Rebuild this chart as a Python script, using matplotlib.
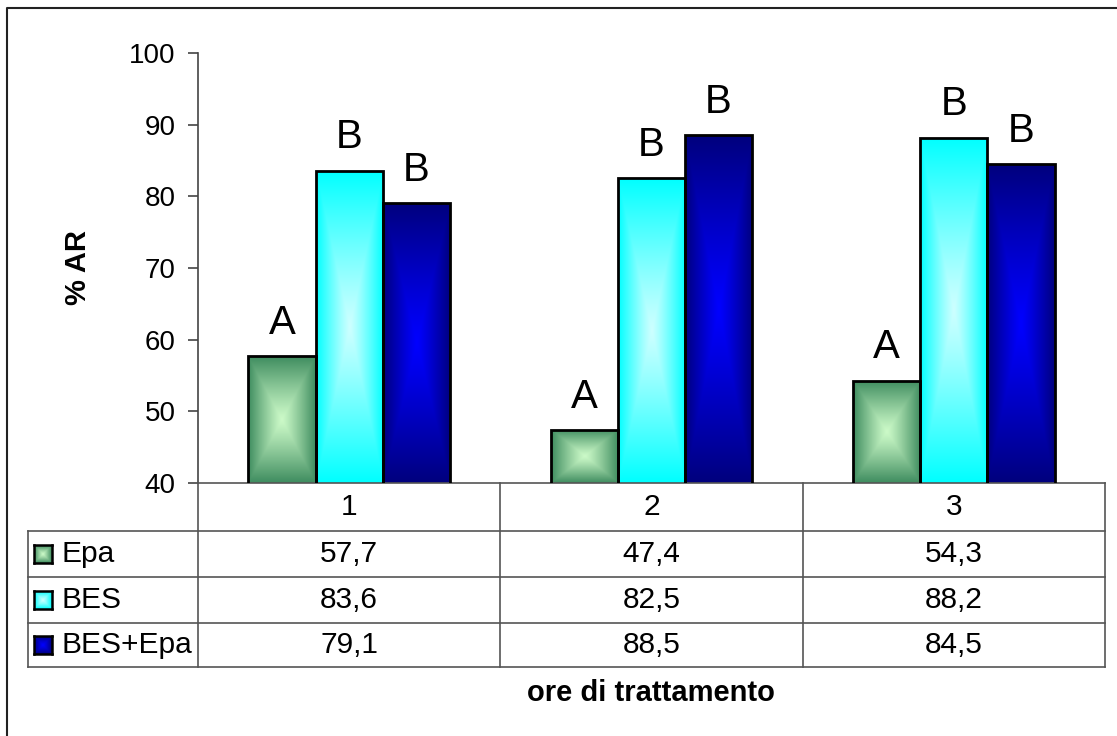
import numpy as np
import matplotlib
matplotlib.use("Agg")
import matplotlib.pyplot as plt
from matplotlib.transforms import blended_transform_factory
from matplotlib.lines import Line2D

plt.rcParams["font.family"] = ["Liberation Sans", "DejaVu Sans"]

# ---- data ----
hours = ["1", "2", "3"]
series_names = ["Epa", "BES", "BES+Epa"]
epa = [57.7, 47.4, 54.3]
bes = [83.6, 82.5, 88.2]
bes_epa = [79.1, 88.5, 84.5]
letters_epa = ["A", "A", "A"]
letters_bes = ["B", "B", "B"]
letters_bes_epa = ["B", "B", "B"]
y_ticks = [40, 50, 60, 70, 80, 90, 100]

# gradient colours (centre, edge) per series
grad_colors = [
    ((204, 250, 200), (62, 140, 95)),   # Epa
    ((205, 255, 255), (0, 255, 255)),   # BES
    ((0, 0, 255), (0, 0, 125)),         # BES+Epa
]

W, H = 1117, 736


def fx(px):
    return px / W


def fy(py):
    return 1 - py / H


def gradient(center, edge, nx=120, ny=240, power=1.15):
    u = np.linspace(-1, 1, nx)
    v = np.linspace(-1, 1, ny)
    U, V = np.meshgrid(u, v)
    t = (np.maximum(np.abs(U), np.abs(V)) ** power)[..., None]
    c = np.array(center) / 255.0
    e = np.array(edge) / 255.0
    return c * (1 - t) + e * t


fig = plt.figure(figsize=(W / 100, H / 100), dpi=100)
ax = fig.add_axes([fx(198), fy(483), (1105 - 198) / W, (483 - 53) / H])

x = np.arange(len(hours))
width = 0.222
offsets = [-width, 0.0, width]
all_vals = [epa, bes, bes_epa]
all_letters = [letters_epa, letters_bes, letters_bes_epa]
ymin, ymax = 40, 100

for vals, letters, off, (cc, ec) in zip(all_vals, all_letters, offsets, grad_colors):
    bars = ax.bar(x + off, vals, width, facecolor="none", edgecolor="black",
                  linewidth=2.0, zorder=3)
    img = gradient(cc, ec)
    for b, v, letter in zip(bars, vals, letters):
        x0 = b.get_x()
        x1 = x0 + b.get_width()
        im = ax.imshow(img, extent=(x0, x1, ymin, v), origin="lower",
                       aspect="auto", zorder=2, interpolation="bilinear")
        im.set_clip_path(b)
        ax.annotate(letter, (b.get_x() + b.get_width() / 2, v),
                    xytext=(0, 16), textcoords="offset points",
                    ha="center", va="baseline", fontsize=29)

ax.set_xlim(-0.5, len(hours) - 0.5)
ax.set_ylim(ymin, ymax)
ax.set_yticks(y_ticks)
ax.set_yticklabels([str(t) for t in y_ticks], fontsize=20)
ax.tick_params(axis="y", direction="out", length=7, width=1.2, pad=9,
               color="#444444")
ax.set_xticks([])
for s in ["top", "right"]:
    ax.spines[s].set_visible(False)
ax.spines["left"].set_color("#444444")
ax.spines["left"].set_linewidth(1.2)
ax.spines["bottom"].set_color("#555555")
ax.spines["bottom"].set_linewidth(1.2)

# ---- data table below the plot ----
line_kw = dict(color="#555555", linewidth=1.2)
tb = blended_transform_factory(ax.transData, fig.transFigure)
ff = fig.transFigure
row_lines = [531, 577, 623, 667]
for py in row_lines:
    fig.add_artist(Line2D([fx(28), fx(1105)], [fy(py), fy(py)], transform=ff, **line_kw))
fig.add_artist(Line2D([fx(28), fx(28)], [fy(531), fy(667)], transform=ff, **line_kw))
fig.add_artist(Line2D([fx(198), fx(198)], [fy(483), fy(667)], transform=ff, **line_kw))
fig.add_artist(Line2D([fx(1105), fx(1105)], [fy(483), fy(667)], transform=ff, **line_kw))
for xb in x[:-1] + 0.5:
    fig.add_artist(Line2D([xb, xb], [fy(483), fy(667)], transform=tb, **line_kw))

table_fs = 21.5
header_y = 507
row_y = [554, 600, 645]
for i, h in enumerate(hours):
    ax.text(i, fy(header_y), h, transform=tb, ha="center", va="center",
            fontsize=table_fs, clip_on=False)
for vals, ry in zip(all_vals, row_y):
    for i, v in enumerate(vals):
        ax.text(i, fy(ry), f"{v:.1f}".replace(".", ","), transform=tb,
                ha="center", va="center", fontsize=table_fs, clip_on=False)

# legend keys in the table
for name, ry, (cc, ec) in zip(series_names, row_y, grad_colors):
    sw = fig.add_axes([fx(34), fy(ry + 9), 18 / W, 18 / H])
    sw.imshow(gradient(cc, ec, 30, 30), aspect="auto", interpolation="bilinear")
    sw.set_xticks([])
    sw.set_yticks([])
    for s in sw.spines.values():
        s.set_linewidth(1.8)
        s.set_color("black")
    fig.text(fx(61), fy(ry), name, ha="left", va="center", fontsize=table_fs)

# axis titles
fig.text(fx(78), fy(268), "% AR", rotation=90, ha="center", va="center",
         fontsize=21, fontweight="bold")
fig.text(fx(651), fy(693), "ore di trattamento", ha="center", va="center",
         fontsize=21, fontweight="bold")

# chart frame
fig.add_artist(Line2D([fx(7), fx(7), 1.1], [-0.1, fy(8), fy(8)], transform=ff,
                      color="#222222", linewidth=1.5))

fig.savefig("out.png", dpi=100)
